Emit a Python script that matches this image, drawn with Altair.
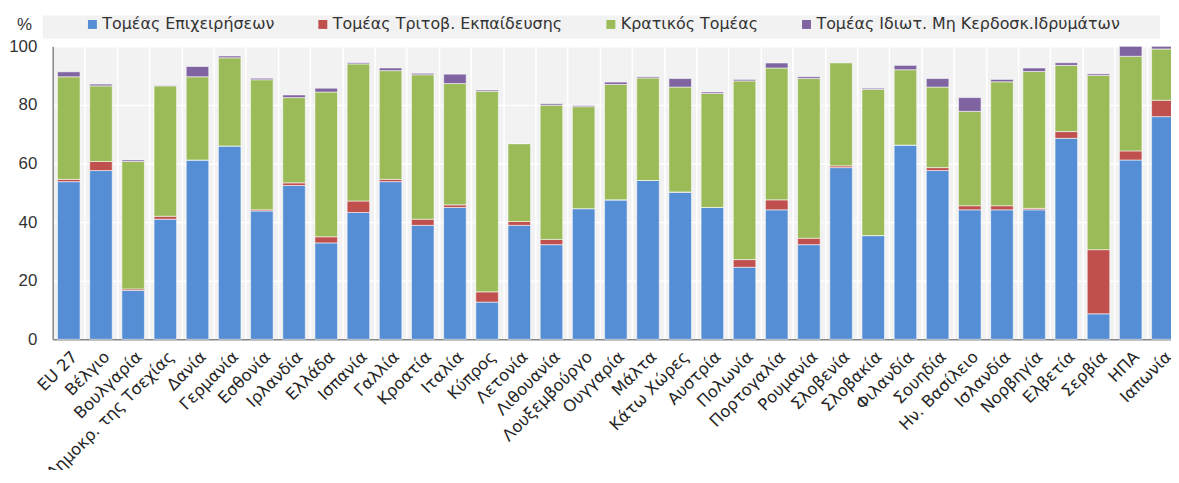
import altair as alt
import pandas as pd

countries = ["EU 27", "Βέλγιο", "Βουλγαρία", "Δημοκρ. της Τσεχίας", "Δανία", "Γερμανία",
             "Εσθονία", "Ιρλανδία", "Ελλάδα", "Ισπανία", "Γαλλία", "Κροατία", "Ιταλία",
             "Κύπρος", "Λετονία", "Λιθουανία", "Λουξεμβούργο", "Ουγγαρία", "Μάλτα",
             "Κάτω Χώρες", "Αυστρία", "Πολωνία", "Πορτογαλία", "Ρουμανία", "Σλοβενία",
             "Σλοβακία", "Φιλανδία", "Σουηδία", "Ην. Βασίλειο", "Ισλανδία", "Νορβηγία",
             "Ελβετία", "Σερβία", "ΗΠΑ", "Ιαπωνία"]

series_names = ["Τομέας Επιχειρήσεων", "Τομέας Τριτοβ. Εκπαίδευσης",
                "Κρατικός Τομέας", "Τομέας Ιδιωτ. Μη Κερδοσκ.Ιδρυμάτων"]
series_colors = ["#558ed5", "#c0504d", "#9bbb59", "#8064a2"]

business = [53.8, 57.6, 16.7, 41.0, 61.2, 66.0, 43.8, 52.5, 32.9, 43.3, 53.8, 38.9, 45.0,
            12.7, 38.9, 32.3, 44.6, 47.6, 54.2, 50.2, 45.0, 24.6, 44.2, 32.3, 58.6, 35.4,
            66.3, 57.6, 44.2, 44.2, 44.2, 68.6, 8.7, 61.2, 76.0]
higher_ed = [0.8, 3.1, 0.5, 1.0, 0.0, 0.0, 0.4, 0.9, 2.1, 3.9, 0.8, 2.1, 0.9,
             3.5, 1.3, 1.8, 0.0, 0.0, 0.0, 0.1, 0.0, 2.6, 3.4, 2.2, 0.6, 0.0,
             0.0, 1.0, 1.4, 1.4, 0.5, 2.3, 21.9, 3.1, 5.6]
government = [35.0, 25.8, 43.5, 44.5, 28.4, 30.1, 44.4, 29.1, 49.4, 46.8, 37.1, 49.3, 41.4,
              68.5, 26.6, 45.8, 34.8, 39.4, 35.0, 35.8, 38.9, 61.0, 45.0, 54.5, 35.2, 49.9,
              25.7, 27.5, 32.2, 42.3, 46.7, 22.6, 59.5, 32.3, 17.5]
private_np = [1.7, 0.6, 0.5, 0.2, 3.5, 0.6, 0.5, 0.9, 1.3, 0.4, 0.9, 0.5, 3.2,
              0.4, 0.0, 0.5, 0.4, 0.8, 0.4, 2.9, 0.5, 0.5, 1.7, 0.6, 0.1, 0.4,
              1.5, 2.9, 4.7, 0.8, 1.2, 0.9, 0.5, 3.4, 0.9]

y_ticks = [0, 20, 40, 60, 80, 100]

rows = []
for s_idx, (name, vals) in enumerate(zip(series_names, [business, higher_ed, government, private_np])):
    for c, v in zip(countries, vals):
        rows.append({"country": c, "series": name, "value": v, "order": s_idx})
df = pd.DataFrame(rows)

FONT = "Liberation Sans"

bars = alt.Chart(df).mark_bar(
    width=alt.RelativeBandSize(0.7), stroke="white", strokeOpacity=0.55, strokeWidth=1
).encode(
    x=alt.X("country:N", sort=countries, title=None,
            scale=alt.Scale(paddingInner=0, paddingOuter=0, range=[0, 1134]),
            axis=alt.Axis(labelAngle=315, labelFont="DejaVu Sans", labelFontSize=16.5,
                          labelColor="#262626", labelPadding=9, labelOverlap=False,
                          labelLimit=400, tickBand="extent", ticks=False,
                          grid=True, gridColor="white", gridWidth=1.5,
                          domainColor="#868686", domainWidth=1.5)),
    y=alt.Y("value:Q", stack="zero",
            scale=alt.Scale(domain=[0, 100], nice=False),
            axis=alt.Axis(values=y_ticks, title="%", titleAngle=0, titleX=-29, titleY=-22,
                          titleAlign="center", titleBaseline="middle", titleFont=FONT,
                          titleFontSize=17, titleFontWeight="normal", titleColor="#333333",
                          labelFont=FONT, labelFontSize=17, labelColor="#333333",
                          labelPadding=16, ticks=False, grid=True, gridColor="white",
                          gridWidth=1.5, domainColor="#868686", domainWidth=1.5)),
    color=alt.Color("series:N", sort=series_names,
                    scale=alt.Scale(domain=series_names, range=series_colors),
                    legend=alt.Legend(title=None, orient="none", direction="horizontal",
                                      legendX=32, legendY=-30, symbolType="square",
                                      symbolSize=81, symbolStrokeWidth=0, labelFont="DejaVu Sans",
                                      labelFontSize=16, labelColor="#333333", labelOffset=2,
                                      columnPadding=40, padding=0, labelLimit=500)),
    order=alt.Order("order:Q", sort="ascending"),
)

band = alt.Chart(pd.DataFrame({"k": [0]})).mark_rect(color="#f2f2f2").encode(
    x=alt.value(-10), x2=alt.value(1115), y=alt.value(-31), y2=alt.value(-8)
)

chart = alt.layer(band, bars).properties(
    width=1126, height=295,
    autosize=alt.AutoSizeParams(type="none"),
    padding={"left": 45, "top": 37, "right": 0, "bottom": 130},
).configure_view(fill="#f2f2f2", stroke=None)

chart.save("out.html", embed_options={"renderer": "svg", "actions": False})
